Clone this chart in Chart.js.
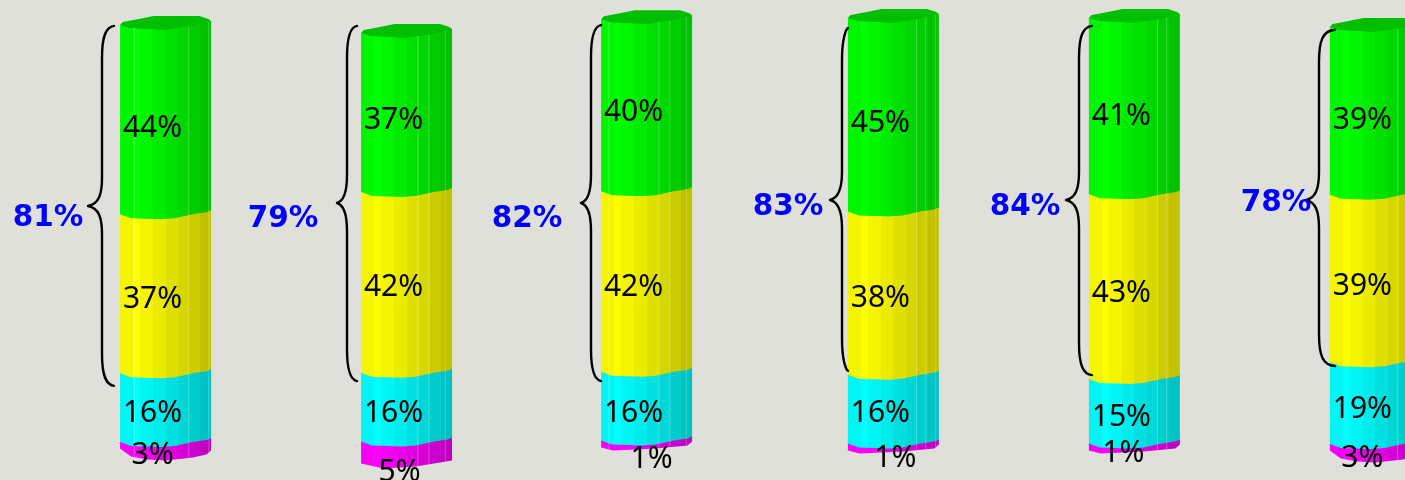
<!DOCTYPE html>
<html>
<head>
<meta charset="utf-8">
<style>
  html, body { margin: 0; padding: 0; background: #dfe0da; }
  canvas { display: block; }
</style>
<script src="https://cdn.jsdelivr.net/npm/chart.js@4"></script>
</head>
<body>
<canvas id="chart" width="1405" height="480"></canvas>
<script>
// column slots on the x axis
const slots = [0, 1, 1.996, 3.02, 4.02, 5.02];

// shares per column, bottom segment first
const magenta = [3, 5, 1, 1, 1, 3];
const cyan = [16, 16, 16, 16, 15, 19];
const yellow = [37, 42, 42, 38, 43, 39];
const green = [44, 37, 40, 45, 41, 39];
const totals = [81, 79, 82, 83, 84, 78];

// how far each column floats above the bottom of the picture
const lift = [4.65, 2.8, 7, 6.3, 6.3, 4.2];

// brace ends, in axis units
const braceTop = [105.6, 105.6, 105.8, 105.1, 105.6, 104.7];
const braceBottom = [21.9, 23, 23, 25.4, 24.4, 26.5];

// label and brace placement (pixels)
const totalLabelX = [48, 283, 527, 788, 1025, 1276];
const totalLabelY = [218, 219, 219, 207, 207, 203];
const tipY = [206, 203, 203, 200, 200, 200];
const tipX = [88, 337, 581, 830, 1066, 1306];
const stemX = [102, 347, 591, 842, 1079, 1319];
const braceReach = [12, 10, 10, 6, 13, 16];
const smallNudgeX = [-13, -7, 5, 2, -11, -13];
const labelNudge = [
  [2, 15, 12, 8, 3, 3],
  [1, 1, 2, -1, 1, 1],
  [1, 0, 1, 0, 2, 3],
  [4, 3, 2, 4, 5, 5]
];

// thin light seams per column, as a share of the bar width
const seams = [[.15, .75, .97], [.62, .74, .92], [.08, .63, .75, .93], [.75, .85, .96], [.75, .85], [.74]];

const series = [
  { name: 'magenta', data: magenta, rgb: [255, 0, 255] },
  { name: 'cyan', data: cyan, rgb: [0, 255, 255] },
  { name: 'yellow', data: yellow, rgb: [255, 255, 0] },
  { name: 'green', data: green, rgb: [0, 255, 0] }
];

const facets = [[0, .96], [.14, 1], [.22, .96], [.36, .92], [.5, .88], [.64, .84], [.76, .8], [.88, .76]];
const edgeWave = [[0, -5], [.12, -1], [.45, 0], [.6, -1], [.8, -5], [.95, -7], [1, -9]];
const capWave = [[0, -5], [.03, -8], [.15, -10], [.37, -14], [.87, -14], [.97, -11], [1, -9]];
const deepBottom = [[0, -12], [.12, -4], [.3, -1], [.5, 0], [.8, -3], [.95, -6], [1, -10]];
const flatBottom = [[0, -3], [.13, 0], [.6, -2], [.95, -5], [1, -9]];
const bottomWave = [deepBottom, [[0, -5], [.25, 0], [.6, -2], [.8, -5], [1, -8]], flatBottom, flatBottom, flatBottom, deepBottom];
const topWave = [[0, -5], [.1, -2], [.5, 0], [.63, -2], [.8, -4], [1, -9]];

function shade(rgb, k) {
  return `rgb(${Math.round(rgb[0] * k)},${Math.round(rgb[1] * k)},${Math.round(rgb[2] * k)})`;
}

function facetFill(ctx, rgb, left, width) {
  const g = ctx.createLinearGradient(left, 0, left + width, 0);
  facets.forEach((f, i) => {
    const end = i + 1 < facets.length ? facets[i + 1][0] : 1;
    g.addColorStop(f[0], shade(rgb, f[1]));
    g.addColorStop(end, shade(rgb, f[1]));
  });
  return g;
}

const waveBars = {
  id: 'waveBars',
  beforeDatasetDraw(chart, args) {
    if (args.index === 0) return false;
    const s = series[args.index - 1];
    const ctx = chart.ctx;
    const isTop = args.index === series.length;
    const isBottom = args.index === 1;
    args.meta.data.forEach((el, col) => {
      const left = el.x - el.width / 2;
      const topW = isTop ? topWave : edgeWave;
      const botW = isBottom ? bottomWave[col] : edgeWave;
      ctx.save();
      if (isTop) {
        ctx.beginPath();
        capWave.forEach(p => ctx.lineTo(left + p[0] * el.width, el.y + p[1]));
        [...topWave].reverse().forEach(p => ctx.lineTo(left + p[0] * el.width, el.y + p[1] + .5));
        ctx.closePath();
        ctx.fillStyle = shade(s.rgb, .75);
        ctx.fill();
      }
      ctx.beginPath();
      topW.forEach(p => ctx.lineTo(left + p[0] * el.width, el.y + p[1]));
      [...botW].reverse().forEach(p => ctx.lineTo(left + p[0] * el.width, el.base + p[1] + .5));
      ctx.closePath();
      ctx.fillStyle = facetFill(ctx, s.rgb, left, el.width);
      ctx.fill();
      ctx.clip();
      ctx.fillStyle = 'rgba(255,255,255,.25)';
      seams[col].forEach(t => ctx.fillRect(left + t * el.width, el.y - 20, 1, el.base - el.y + 40));
      ctx.restore();
    });
    return false;
  },
  afterDatasetsDraw(chart) {
    const ctx = chart.ctx;
    const yScale = chart.scales.y;
    ctx.save();
    ctx.textAlign = 'center';
    ctx.textBaseline = 'middle';
    ctx.font = '30px "Noto Sans"';
    ctx.fillStyle = '#000';
    series.forEach((s, si) => {
      chart.getDatasetMeta(si + 1).data.forEach((el, i) => {
        const x = si === 0 ? el.x + smallNudgeX[i] : el.x - 13;
        ctx.fillText(s.data[i] + '%', x, (el.y + el.base) / 2 + labelNudge[si][i]);
      });
    });
    // braces and totals
    ctx.strokeStyle = '#000';
    ctx.lineWidth = 2.4;
    ctx.lineCap = 'round';
    ctx.lineJoin = 'round';
    ctx.font = 'bold 29.5px "DejaVu Sans"';
    ctx.fillStyle = '#0000ff';
    totals.forEach((t, i) => {
      const top = yScale.getPixelForValue(braceTop[i]);
      const bot = yScale.getPixelForValue(braceBottom[i]);
      const sx = stemX[i], tx = tipX[i], tip = tipY[i];
      const endX = sx + braceReach[i];
      ctx.beginPath();
      ctx.moveTo(endX, top);
      ctx.bezierCurveTo(sx + 4, top + 1, sx, top + 10, sx, top + 32);
      ctx.lineTo(sx, tip - 28);
      ctx.bezierCurveTo(sx, tip - 12, sx - 3, tip - 2, tx, tip);
      ctx.bezierCurveTo(sx - 3, tip + 2, sx, tip + 12, sx, tip + 28);
      ctx.lineTo(sx, bot - 32);
      ctx.bezierCurveTo(sx, bot - 10, sx + 4, bot - 1, endX, bot);
      ctx.stroke();
      ctx.fillText(t + '%', totalLabelX[i], totalLabelY[i]);
    });
    ctx.restore();
  }
};

new Chart(document.getElementById('chart'), {
  type: 'bar',
  data: {
    datasets: [
      { label: 'lift', data: lift.map((v, i) => ({ x: slots[i], y: v })), backgroundColor: 'transparent' },
      ...series.map(s => ({
        label: s.name,
        data: s.data.map((v, i) => ({ x: slots[i], y: v })),
        backgroundColor: shade(s.rgb, 1)
      }))
    ]
  },
  options: {
    responsive: false,
    animation: false,
    layout: { padding: 0 },
    barThickness: 91,
    plugins: { legend: { display: false }, tooltip: { enabled: false } },
    scales: {
      x: { type: 'linear', stacked: true, display: false, offset: false, min: -0.687, max: 5.143 },
      y: { stacked: true, display: false, min: 0, max: 111.63 }
    }
  },
  plugins: [waveBars]
});
</script>
</body>
</html>
